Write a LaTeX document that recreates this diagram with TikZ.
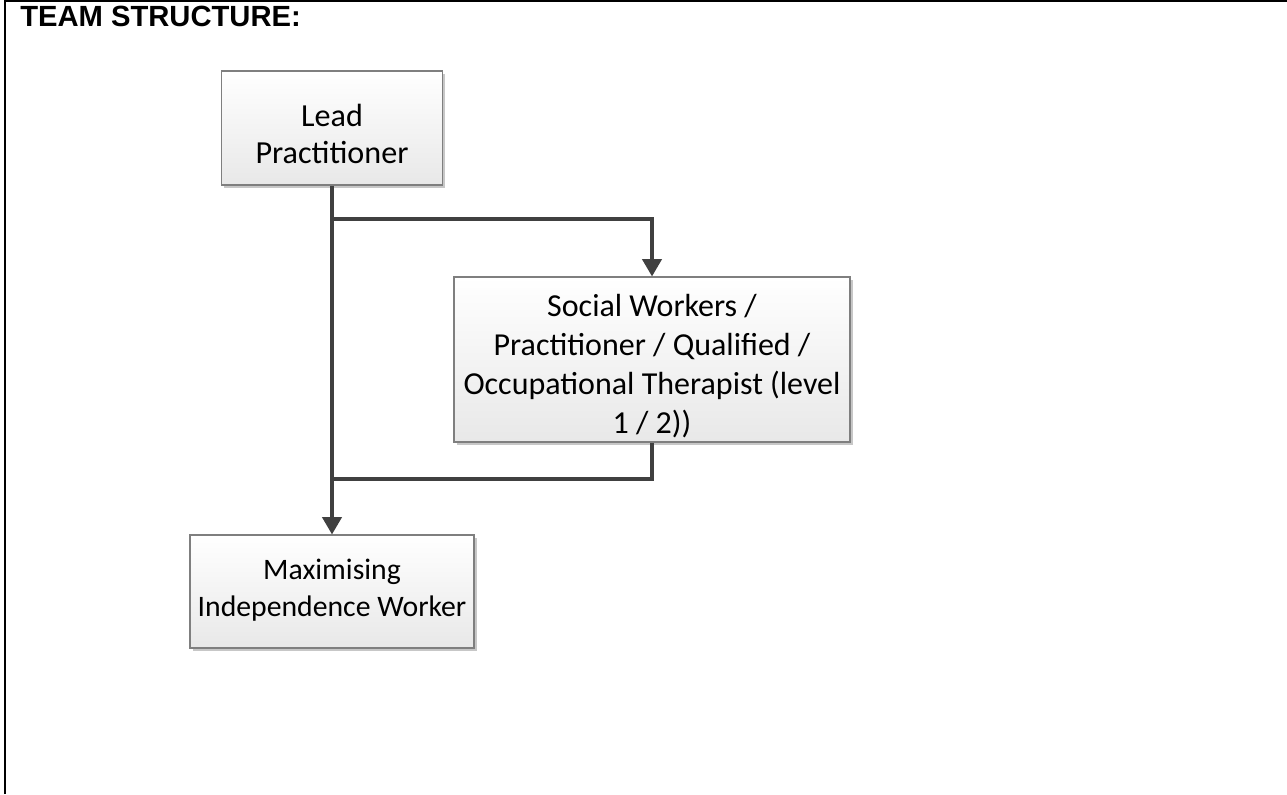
\documentclass[tikz,border=0pt]{standalone}
\usepackage{fontspec}
\setmainfont{Carlito}
\newfontfamily\titlefont{Liberation Sans}
\usetikzlibrary{arrows.meta,shadows}
\definecolor{linegray}{HTML}{404040}
\definecolor{boxedge}{HTML}{7F7F7F}
\begin{document}
\begin{tikzpicture}[x=0.75pt,y=-0.75pt,
  box/.style={draw=boxedge, line width=0.9pt, top color=white, bottom color=black!9,
    inner sep=0pt,
    drop shadow={shadow xshift=2.2pt, shadow yshift=-2.2pt, fill=black!22, opacity=1}},
  boxtext/.style={align=center, inner sep=0pt},
  conn/.style={draw=linegray, line width=2.4pt},
  arr/.style={conn, -{Triangle[width=14.5pt,length=13pt]}},
  frameline/.style={draw=black, line width=1.5pt}]
\useasboundingbox (0,0) rectangle (1287,794);
\coordinate (fbl) at (5,794);
\coordinate (ftl) at (5,0.5);
\coordinate (ftr) at (1287,0.5);
\draw[frameline] (fbl) -- (ftl) -- (ftr);
\node[anchor=base west, inner sep=0pt, font=\titlefont\bfseries\fontsize{21.9}{24}\selectfont] (title) at (20,26.7) {TEAM STRUCTURE:};
\node[box, minimum width=165.75pt, minimum height=85.5pt] (lead) at (332,128) {};
\node[box, minimum width=297pt, minimum height=123.75pt] (social) at (652,359.5) {};
\node[box, minimum width=213pt, minimum height=84.75pt] (maxw) at (332,591.5) {};
\node[boxtext, font=\fontsize{24.1}{28}\selectfont, yshift=-4.5pt] (leadtxt) at (lead.center) {Lead\\Practitioner};
\node[boxtext, font=\fontsize{24}{29.3}\selectfont, yshift=-5pt] (socialtxt) at (social.center) {Social Workers /\\Practitioner / Qualified /\\Occupational Therapist (level\\1 / 2))};
\node[boxtext, font=\fontsize{22.3}{27.9}\selectfont, yshift=1pt] (maxtxt) at (maxw.center) {Maximising\\Independence Worker};
\coordinate (b1) at (332,219);
\coordinate (b2) at (332,479);
\draw[arr] (lead.south) -- (maxw.north);
\draw[arr] (b1) -| (social.north);
\draw[conn] (social.south) |- (b2);
\end{tikzpicture}
\end{document}
